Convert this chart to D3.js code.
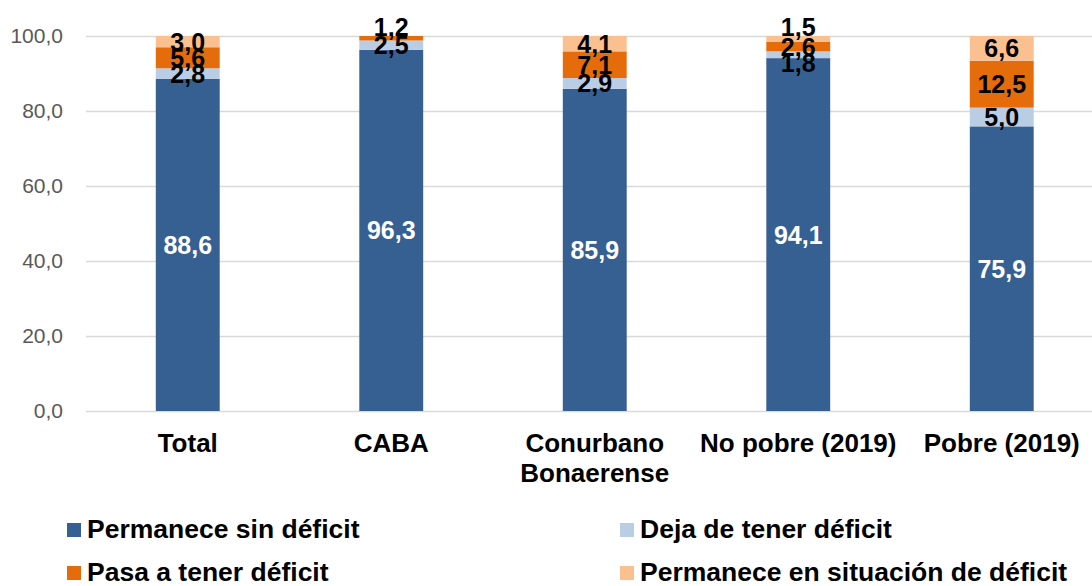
<!DOCTYPE html>
<html>
<head>
<meta charset="utf-8">
<script src="https://cdn.jsdelivr.net/npm/d3@7"></script>
<style>
  body { margin: 0; background: #fff; }
  svg { display: block; font-family: "Liberation Sans", Arial, sans-serif; }
</style>
</head>
<body>
<div id="chart"></div>
<script>
// categorias y series
const categories = ["Total", "CABA", "Conurbano Bonaerense", "No pobre (2019)", "Pobre (2019)"];
const seriesNames = ["Permanece sin déficit", "Deja de tener déficit", "Pasa a tener déficit", "Permanece en situación de déficit"];
const sinDeficit = [88.6, 96.3, 85.9, 94.1, 75.9];
const dejaDeficit = [2.8, 2.5, 2.9, 1.8, 5.0];
const pasaDeficit = [5.6, 1.2, 7.1, 2.6, 12.5];
const permaneceDeficit = [3.0, 0.0, 4.1, 1.5, 6.6];
const yTicks = [0, 20, 40, 60, 80, 100];

const colors = ["#376092", "#B9CDE5", "#E46C0A", "#FAC090"];
const labelColors = ["#fff", "#000", "#000", "#000"];

const W = 1092, H = 586;
const margin = {top: 36, left: 86};
const plotH = 411 - margin.top;
const plotW = 1017.5;

const rows = categories.map((c, i) => ({
    cat: c,
    s0: sinDeficit[i], s1: dejaDeficit[i], s2: pasaDeficit[i], s3: permaneceDeficit[i]
}));
const keys = ["s0", "s1", "s2", "s3"];

const svg = d3.select("#chart").append("svg")
    .attr("width", W)
    .attr("height", H);

const g = svg.append("g").attr("transform", "translate(" + margin.left + "," + margin.top + ")");

const x = d3.scaleBand()
    .domain(categories)
    .range([0, plotW])
    .paddingInner(0.686)
    .paddingOuter(0.343);

const y = d3.scaleLinear().domain([0, 100]).range([plotH, 0]);

const fmt = v => d3.format(".1f")(v).replace(".", ",");

// eje y con lineas de grilla
const yAxis = g.append("g")
    .call(d3.axisLeft(y).tickValues(yTicks).tickSize(-(W - margin.left)).tickPadding(23).tickFormat(fmt));
yAxis.select(".domain").remove();
yAxis.selectAll(".tick line").attr("stroke", "#d9d9d9").attr("stroke-width", 1.5);
yAxis.selectAll(".tick text")
    .attr("fill", "#595959")
    .style("font-size", "21px")
    .style("font-family", "'Liberation Sans', Arial, sans-serif");

const stacked = d3.stack().keys(keys)(rows);

const layer = g.selectAll(".layer")
    .data(stacked)
    .enter().append("g")
    .attr("class", "layer")
    .attr("fill", (d, i) => colors[i]);

layer.selectAll("rect")
    .data(d => d)
    .enter().append("rect")
    .attr("x", d => x(d.data.cat))
    .attr("width", x.bandwidth())
    .attr("y", d => y(d[1]))
    .attr("height", d => y(d[0]) - y(d[1]));

// etiquetas de datos
stacked.forEach((s, si) => {
    s.forEach(d => {
        const v = d[1] - d[0];
        if (v <= 0) return;
        // segmento superior no nulo?
        const isTop = keys.slice(si + 1).every(k => d.data[k] === 0);
        let cy = (y(d[0]) + y(d[1])) / 2;
        if (v < 2 && isTop) cy = y(d[1]) - 9;
        else if (v < 2) cy += 8;
        g.append("text")
            .attr("x", x(d.data.cat) + x.bandwidth() / 2)
            .attr("y", cy)
            .attr("dy", "0.36em")
            .attr("text-anchor", "middle")
            .attr("fill", labelColors[si])
            .style("font-size", "25px")
            .style("font-weight", "bold")
            .text(fmt(v));
    });
});

// etiquetas del eje x
const xLab = g.selectAll(".xlab")
    .data(categories)
    .enter().append("text")
    .attr("class", "xlab")
    .attr("text-anchor", "middle")
    .attr("y", plotH + 41)
    .style("font-size", "26px")
    .style("font-weight", "bold")
    .attr("fill", "#000");

xLab.each(function(d) {
    const t = d3.select(this);
    const cx = x(d) + x.bandwidth() / 2;
    const words = d.split(" ");
    let line = [];
    let tspan = t.append("tspan").attr("x", cx).attr("dy", 0);
    words.forEach(w => {
        line.push(w);
        tspan.text(line.join(" "));
        if (tspan.node().getComputedTextLength() > x.step() && line.length > 1) {
            line.pop();
            tspan.text(line.join(" "));
            line = [w];
            tspan = t.append("tspan").attr("x", cx).attr("dy", 30).text(w);
        }
    });
});

// leyenda
const legend = svg.selectAll(".legend")
    .data(seriesNames)
    .enter().append("g")
    .attr("class", "legend")
    .attr("transform", (d, i) => "translate(" + (i % 2 === 0 ? 67 : 620) + "," + (i < 2 ? 530 : 573) + ")");

legend.append("rect")
    .attr("x", 0)
    .attr("y", -7)
    .attr("width", 14)
    .attr("height", 14)
    .attr("fill", (d, i) => colors[i]);

legend.append("text")
    .attr("x", 20)
    .attr("y", 8)
    .style("font-size", "26.5px")
    .style("font-weight", "bold")
    .attr("fill", "#000")
    .text(d => d);
</script>
</body>
</html>
